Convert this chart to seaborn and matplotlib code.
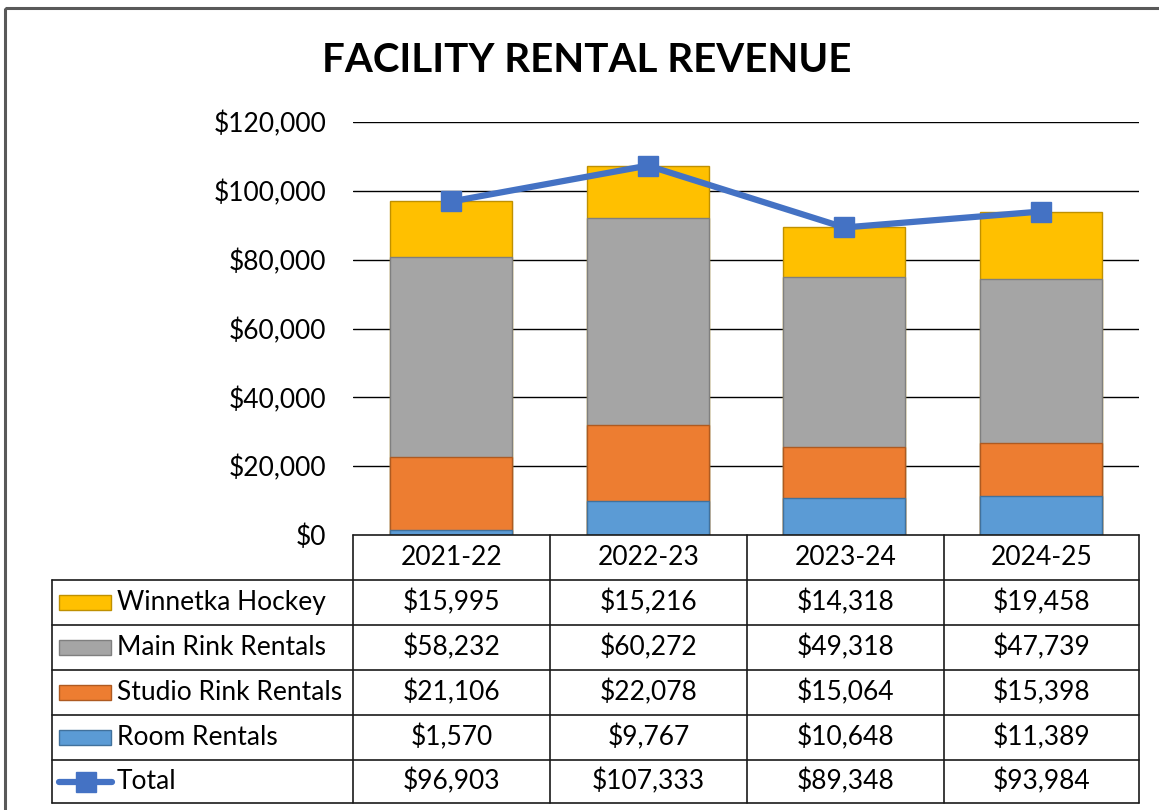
import numpy as np
import pandas as pd
import matplotlib
matplotlib.use("Agg")
from matplotlib import pyplot as plt
from matplotlib.patches import Rectangle
from matplotlib.lines import Line2D
import seaborn as sns

years = ['2021-22', '2022-23', '2023-24', '2024-25']
room_rentals = [1570, 9767, 10648, 11389]
studio_rink = [21106, 22078, 15064, 15398]
main_rink = [58232, 60272, 49318, 47739]
winnetka_hockey = [15995, 15216, 14318, 19458]

series_names = ['Room Rentals', 'Studio Rink Rentals', 'Main Rink Rentals', 'Winnetka Hockey']
series_values = [room_rentals, studio_rink, main_rink, winnetka_hockey]
fill_colors = ['#5B9BD5', '#ED7D31', '#A5A5A5', '#FFC000']
edge_colors = ['#41719C', '#AE5A21', '#7F7F7F', '#BF9000']
line_color = '#4472C4'

totals = list(np.sum(series_values, axis=0))

sns.set_style('white')
plt.rcParams['font.family'] = ['Lato', 'DejaVu Sans']
plt.rcParams['text.color'] = 'black'
plt.rcParams['ytick.color'] = 'black'

W, H = 1159, 810
fig = plt.figure(figsize=(W / 100, H / 100), dpi=100)

# main chart area
ax = fig.add_axes([353 / W, 1 - 535 / H, (1139 - 353) / W, (535 - 122) / H])

# stacked bars: draw cumulative sums from the top down
df = pd.DataFrame(dict(zip(series_names, series_values)), index=years)
cum = df.cumsum(axis=1)
for name, fc, ec in reversed(list(zip(series_names, fill_colors, edge_colors))):
    sns.barplot(x=years, y=cum[name].values, color=fc, edgecolor=ec,
                linewidth=1, width=0.62, saturation=1, ax=ax, zorder=2)

ax.plot(np.arange(len(years)), totals, color=line_color, lw=4.5,
        marker='s', markersize=14, zorder=3, solid_capstyle='round')

ax.set_ylim(0, 120000)
ax.set_xlim(-0.5, len(years) - 0.5)
ax.set_yticks(np.arange(0, 120001, 20000))
ax.set_yticklabels([f'${v:,.0f}' for v in np.arange(0, 120001, 20000)], fontsize=19)
ax.tick_params(axis='y', length=0, pad=19)
ax.set_xticks([])
ax.set_xlabel('')
ax.set_ylabel('')
for y in np.arange(20000, 120001, 20000):
    ax.axhline(y, color='black', lw=1, zorder=1)
for s in ax.spines.values():
    s.set_visible(False)

# overlay for table, title and frame, in pixel coordinates
ov = fig.add_axes([0, 0, 1, 1], facecolor='none')
ov.set_xlim(0, W)
ov.set_ylim(H, 0)
ov.axis('off')

ov.add_patch(Rectangle((5, 8), W + 20, H + 20, fill=False, edgecolor='#595959', lw=2.2))
ov.text(587, 61, 'FACILITY RENTAL REVENUE', ha='center', va='center',
        fontsize=29, fontweight='bold')

col_x = [353, 550, 747, 944, 1139]
row_y = [535, 580, 625, 670, 715, 760, 803]
left_x = 52
lc = '#1a1a1a'
# horizontal lines
ov.plot([353, 1139], [row_y[0], row_y[0]], color=lc, lw=1.2)
for y in row_y[1:]:
    ov.plot([left_x, 1139], [y, y], color=lc, lw=1.2)
# vertical lines
ov.plot([left_x, left_x], [row_y[1], row_y[-1]], color=lc, lw=1.2)
for x in col_x:
    ov.plot([x, x], [row_y[0], row_y[-1]], color=lc, lw=1.2)

fs = 19
for i, yr in enumerate(years):
    cx = (col_x[i] + col_x[i + 1]) / 2
    ov.text(cx, (row_y[0] + row_y[1]) / 2, yr, ha='center', va='center', fontsize=fs)

table_rows = list(zip(reversed(series_names), reversed(series_values),
                      reversed(fill_colors), reversed(edge_colors)))
for r, (name, vals, fc, ec) in enumerate(table_rows):
    yc = (row_y[r + 1] + row_y[r + 2]) / 2
    ov.add_patch(Rectangle((59, yc - 7.5), 52, 15, facecolor=fc, edgecolor=ec, lw=1))
    ov.text(117, yc, name, ha='left', va='center', fontsize=fs)
    for i, v in enumerate(vals):
        cx = (col_x[i] + col_x[i + 1]) / 2
        ov.text(cx, yc, f'${v:,}', ha='center', va='center', fontsize=fs)

yc = (row_y[5] + row_y[6]) / 2
ov.add_line(Line2D([59, 112], [yc, yc], color=line_color, lw=4.5, solid_capstyle='round'))
ov.add_line(Line2D([85.5], [yc], color=line_color, marker='s', markersize=14, lw=0))
ov.text(117, yc, 'Total', ha='left', va='center', fontsize=fs)
for i, v in enumerate(totals):
    cx = (col_x[i] + col_x[i + 1]) / 2
    ov.text(cx, yc, f'${v:,}', ha='center', va='center', fontsize=fs)

fig.savefig('out.png', dpi=100)
plt.close(fig)
